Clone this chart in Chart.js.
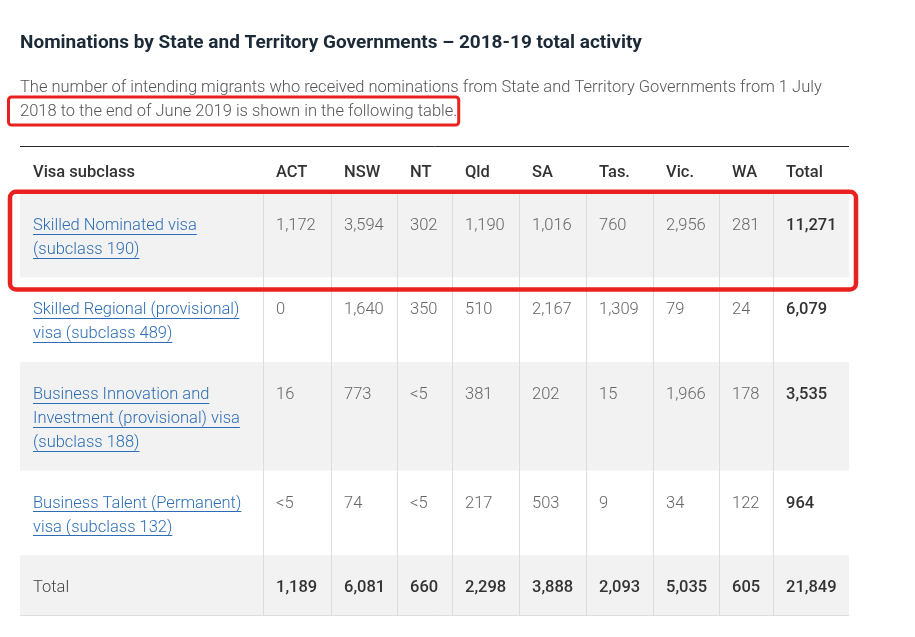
<!DOCTYPE html>
<html>
<head>
<meta charset="utf-8">
<title>Nominations by State and Territory Governments</title>
<script src="https://cdn.jsdelivr.net/npm/chart.js@4.4.1/dist/chart.umd.min.js"></script>
<style>
    html, body { margin: 0; padding: 0; background: #fff; }
    #wrap { width: 915px; height: 637px; }
</style>
</head>
<body>
<div id="wrap"><canvas id="nominations"></canvas></div>
<script>
var heading = 'Nominations by State and Territory Governments \u2013 2018-19 total activity';
var paragraph = [
    'The number of intending migrants who received nominations from State and Territory Governments from 1 July',
    '2018 to the end of June 2019 is shown in the following table.'
];

var columns = ['Visa subclass', 'ACT', 'NSW', 'NT', 'Qld', 'SA', 'Tas.', 'Vic.', 'WA', 'Total'];
var visaSubclasses = [
    ['Skilled Nominated visa', '(subclass 190)'],
    ['Skilled Regional (provisional)', 'visa (subclass 489)'],
    ['Business Innovation and', 'Investment (provisional) visa', '(subclass 188)'],
    ['Business Talent (Permanent)', 'visa (subclass 132)'],
    ['Total']
];
var subclass190 = [1172, 3594, 302, 1190, 1016, 760, 2956, 281, 11271];
var subclass489 = [0, 1640, 350, 510, 2167, 1309, 79, 24, 6079];
var subclass188 = [16, 773, '<5', 381, 202, 15, 1966, 178, 3535];
var subclass132 = ['<5', 74, '<5', 217, 503, 9, 34, 122, 964];
var totals = [1189, 6081, 660, 2298, 3888, 2093, 5035, 605, 21849];
var tableRows = [subclass190, subclass489, subclass188, subclass132, totals];

// layout (table units, drawn through the x / y scales)
var columnWidths = [243, 68, 66, 55, 67, 67, 67, 66, 54, 76];
var headerHeight = 47;
var lineHeight = 24;
var rowPadding = 37;
var bodyFont = '300 16.5px Roboto';
var boldFont = '500 16.5px Roboto';

var colEdges = [0];
columnWidths.forEach(function (w) { colEdges.push(colEdges[colEdges.length - 1] + w); });
var rowEdges = [0, headerHeight];
visaSubclasses.forEach(function (lines) {
    rowEdges.push(rowEdges[rowEdges.length - 1] + rowPadding + lineHeight * lines.length);
});
var tableWidth = colEdges[colEdges.length - 1];
var tableHeight = rowEdges[rowEdges.length - 1];

function formatValue(v) {
    return typeof v === 'number' ? v.toLocaleString('en-US') : v;
}

function roundRect(ctx, l, t, r, b, rad) {
    ctx.beginPath();
    ctx.moveTo(l + rad, t);
    ctx.lineTo(r - rad, t);
    ctx.arcTo(r, t, r, t + rad, rad);
    ctx.lineTo(r, b - rad);
    ctx.arcTo(r, b, r - rad, b, rad);
    ctx.lineTo(l + rad, b);
    ctx.arcTo(l, b, l, b - rad, rad);
    ctx.lineTo(l, t + rad);
    ctx.arcTo(l, t, l + rad, t, rad);
    ctx.closePath();
}

var visaTable = {
    id: 'visaTable',
    beforeDatasetsDraw: function (chart) {
        var ctx = chart.ctx;
        var x = chart.scales.x, y = chart.scales.y;
        var left = x.getPixelForValue(0), right = x.getPixelForValue(tableWidth);
        var nRows = tableRows.length;

        ctx.save();
        // striped rows
        for (var r = 0; r < nRows; r++) {
            if (r % 2 === 0) {
                ctx.fillStyle = '#f2f2f2';
                var t = y.getPixelForValue(rowEdges[r + 1]);
                var b = y.getPixelForValue(rowEdges[r + 2]);
                ctx.fillRect(left, t, right - left, b - t);
            }
        }
        // vertical cell borders
        ctx.strokeStyle = '#dddddd';
        ctx.lineWidth = 1;
        for (var c = 1; c < columns.length; c++) {
            var px = Math.round(x.getPixelForValue(colEdges[c])) + 0.5;
            ctx.beginPath();
            ctx.moveTo(px, y.getPixelForValue(rowEdges[1]));
            ctx.lineTo(px, y.getPixelForValue(tableHeight));
            ctx.stroke();
        }
        // bottom border
        var by = Math.round(y.getPixelForValue(tableHeight)) - 0.5;
        ctx.beginPath();
        ctx.moveTo(left, by);
        ctx.lineTo(right, by);
        ctx.stroke();
        // top rule
        ctx.strokeStyle = '#2b2b2b';
        var ty = Math.round(y.getPixelForValue(0)) + 0.5;
        ctx.beginPath();
        ctx.moveTo(left, ty);
        ctx.lineTo(right, ty);
        ctx.stroke();

        // header
        ctx.textBaseline = 'middle';
        ctx.textAlign = 'left';
        ctx.font = boldFont;
        ctx.fillStyle = '#333333';
        columns.forEach(function (name, c) {
            ctx.fillText(name, x.getPixelForValue(colEdges[c]) + 13, y.getPixelForValue(27));
        });

        // body
        for (r = 0; r < nRows; r++) {
            var top = rowEdges[r + 1];
            var isTotal = r === nRows - 1;
            visaSubclasses[r].forEach(function (line, i) {
                var lx = x.getPixelForValue(colEdges[0]) + 13;
                var ly = y.getPixelForValue(top + 33 + i * lineHeight);
                ctx.font = bodyFont;
                if (isTotal) {
                    ctx.fillStyle = '#444444';
                    ctx.fillText(line, lx, ly);
                } else {
                    ctx.fillStyle = '#2c6db5';
                    ctx.fillText(line, lx, ly);
                    var w = ctx.measureText(line).width;
                    ctx.fillRect(lx, Math.round(ly + 8), w, 1);
                }
            });
            tableRows[r].forEach(function (v, c) {
                var bold = isTotal || c === tableRows[r].length - 1;
                ctx.font = bold ? boldFont : bodyFont;
                ctx.fillStyle = bold ? '#333333' : '#666666';
                ctx.fillText(formatValue(v), x.getPixelForValue(colEdges[c + 1]) + 13,
                    y.getPixelForValue(top + 33));
            });
        }

        // red highlight around the first row
        ctx.strokeStyle = '#e8221e';
        ctx.lineWidth = 4.5;
        roundRect(ctx, left - 10, y.getPixelForValue(rowEdges[1]) - 1,
            right + 7, y.getPixelForValue(rowEdges[2]) + 12, 6);
        ctx.stroke();
        ctx.restore();
    },
    afterDraw: function (chart) {
        // red highlight around the second paragraph line
        var box = chart.boxes.find(function (b) { return b.options && b.options.text === paragraph; });
        if (!box) return;
        var ctx = chart.ctx;
        var sub = chart.options.plugins.subtitle;
        ctx.save();
        ctx.font = bodyFont;
        var w = ctx.measureText(paragraph[1]).width;
        var cy = box.top + sub.padding.top + lineHeight * 1.5;
        ctx.strokeStyle = '#e8221e';
        ctx.lineWidth = 3;
        roundRect(ctx, box.left - 11.5, cy - 15, box.left + w + 1.5, cy + 13, 3);
        ctx.stroke();
        ctx.restore();
    }
};

var chart = new Chart(document.getElementById('nominations'), {
    type: 'scatter',
    data: { datasets: [] },
    plugins: [visaTable],
    options: {
        responsive: true,
        maintainAspectRatio: false,
        animation: false,
        layout: { padding: { left: 20, right: 66, top: 0, bottom: 21 } },
        scales: {
            x: { type: 'linear', display: false, min: 0, max: tableWidth },
            y: { type: 'linear', display: false, reverse: true, min: 0, max: tableHeight }
        },
        plugins: {
            legend: { display: false },
            tooltip: { enabled: false },
            title: {
                display: true,
                text: heading,
                align: 'start',
                color: '#1c2a38',
                font: { family: 'Roboto', size: 19, weight: 'bold', lineHeight: 1.2 },
                padding: { top: 32, bottom: 21.2 }
            },
            subtitle: {
                display: true,
                text: paragraph,
                align: 'start',
                color: '#555555',
                font: { family: 'Roboto', size: 16.5, weight: '300', lineHeight: 24 / 16.5 },
                padding: { top: 0, bottom: 22 }
            }
        }
    }
});
</script>
</body>
</html>
